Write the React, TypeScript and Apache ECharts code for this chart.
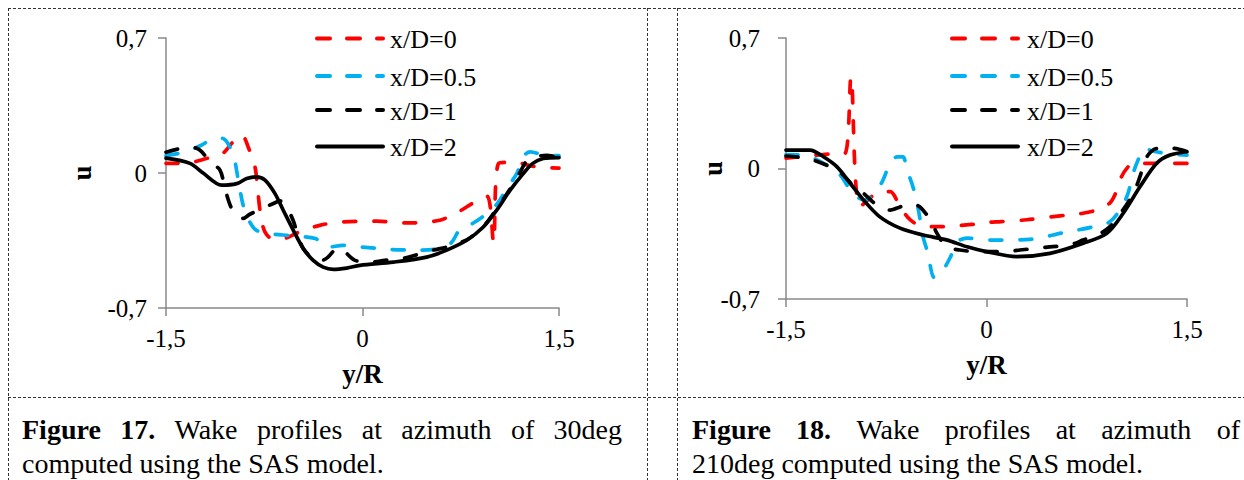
import React, { useEffect, useRef } from "react";
import * as echarts from "echarts";

// ---------- data ----------
const xTicks = [-1.5, 0, 1.5];
const yTicks = [-0.7, 0, 0.7];
const seriesNames = ["x/D=0", "x/D=0.5", "x/D=1", "x/D=2"];
const xAxisTitle = "y/R";
const yAxisTitle = "u";

// Figure 17 (azimuth 30deg)
const fig17_xD0: [number, number][] = [
  [-1.5, 0.05], [-1.36, 0.05], [-1.18, 0.077], [-1.07, 0.1], [-0.99, 0.16], [-0.92, 0.196],
  [-0.87, 0.13], [-0.82, 0.03], [-0.8, -0.09], [-0.775, -0.23], [-0.745, -0.305], [-0.69, -0.34],
  [-0.61, -0.34], [-0.48, -0.305], [-0.32, -0.27], [-0.15, -0.254], [0.11, -0.25], [0.34, -0.259],
  [0.59, -0.245], [0.74, -0.198], [0.84, -0.157], [0.95, -0.12], [1.0, -0.36], [1.04, 0.05],
  [1.16, 0.056], [1.3, 0.035], [1.5, 0.025],
];
const fig17_xD05: [number, number][] = [
  [-1.5, 0.09], [-1.35, 0.11], [-1.23, 0.144], [-1.13, 0.18], [-1.07, 0.18], [-0.99, 0.1],
  [-0.95, -0.03], [-0.91, -0.17], [-0.86, -0.255], [-0.81, -0.297], [-0.71, -0.314], [-0.55, -0.325],
  [-0.36, -0.34], [-0.26, -0.384], [-0.15, -0.375], [0.0, -0.384], [0.2, -0.396], [0.44, -0.4],
  [0.6, -0.39], [0.68, -0.36], [0.74, -0.297], [0.84, -0.262], [0.95, -0.21], [1.03, -0.158],
  [1.11, -0.072], [1.18, 0.0], [1.225, 0.084], [1.28, 0.11], [1.39, 0.092], [1.5, 0.09],
];
const fig17_xD1: [number, number][] = [
  [-1.5, 0.108], [-1.31, 0.135], [-1.24, 0.118], [-1.164, 0.058], [-1.088, 0.015], [-1.05, -0.08],
  [-1.01, -0.167], [-0.96, -0.228], [-0.91, -0.235], [-0.86, -0.214], [-0.76, -0.183], [-0.68, -0.158],
  [-0.63, -0.145], [-0.576, -0.183], [-0.53, -0.245], [-0.49, -0.33], [-0.454, -0.39], [-0.4, -0.43],
  [-0.31, -0.453], [-0.263, -0.436], [-0.19, -0.39], [-0.149, -0.4], [-0.057, -0.453], [0.07, -0.462],
  [0.17, -0.453], [0.3, -0.444], [0.4, -0.427], [0.538, -0.4], [0.643, -0.384], [0.8, -0.345],
  [0.92, -0.28], [1.02, -0.19], [1.12, -0.09], [1.2, 0.0], [1.25, 0.06], [1.3, 0.08], [1.405, 0.092],
  [1.5, 0.082],
];
const fig17_xD2: [number, number][] = [
  [-1.5, 0.077], [-1.317, 0.05], [-1.217, 0.0], [-1.075, -0.063], [-0.96, -0.055], [-0.884, -0.029],
  [-0.81, -0.02], [-0.744, -0.037], [-0.668, -0.107], [-0.605, -0.193], [-0.528, -0.297], [-0.452, -0.392],
  [-0.376, -0.453], [-0.3, -0.488], [-0.223, -0.5], [-0.12, -0.493], [-0.019, -0.479], [0.235, -0.462],
  [0.49, -0.436], [0.643, -0.4], [0.795, -0.349], [0.922, -0.28], [1.024, -0.193], [1.126, -0.09],
  [1.227, -0.003], [1.3, 0.05], [1.38, 0.075], [1.5, 0.08],
];

// Figure 18 (azimuth 210deg)
const fig18_xD0: [number, number][] = [
  [-1.5, 0.056], [-1.27, 0.072], [-1.16, 0.078], [-1.06, 0.08], [-1.014, 0.49], [-0.946, -0.205],
  [-0.8, -0.126], [-0.72, -0.124], [-0.647, -0.205], [-0.57, -0.276], [-0.47, -0.312], [-0.35, -0.312],
  [-0.11, -0.3], [0.0, -0.29], [0.11, -0.285], [0.3, -0.275], [0.5, -0.258], [0.6, -0.25],
  [0.72, -0.24], [0.82, -0.223], [0.92, -0.187], [0.96, -0.142], [1.01, -0.044], [1.06, 0.01],
  [1.1, 0.028], [1.27, 0.028], [1.5, 0.028],
];
const fig18_xD05: [number, number][] = [
  [-1.5, 0.075], [-1.35, 0.07], [-1.2, 0.02], [-1.1, -0.03], [-1.02, -0.115], [-0.97, -0.152],
  [-0.91, -0.17], [-0.83, -0.124], [-0.78, -0.07], [-0.72, 0.028], [-0.67, 0.062], [-0.625, 0.062],
  [-0.595, -0.008], [-0.55, -0.099], [-0.51, -0.22], [-0.475, -0.366], [-0.44, -0.45], [-0.39, -0.585],
  [-0.326, -0.545], [-0.27, -0.475], [-0.22, -0.394], [-0.146, -0.373], [0.026, -0.384], [0.325, -0.38],
  [0.565, -0.346], [0.79, -0.314], [0.92, -0.287], [1.013, -0.206], [1.06, -0.13], [1.09, -0.044],
  [1.125, 0.03], [1.186, 0.11], [1.24, 0.094], [1.38, 0.078], [1.5, 0.072],
];
const fig18_xD1: [number, number][] = [
  [-1.5, 0.067], [-1.42, 0.062], [-1.3, 0.046], [-1.17, 0.01], [-1.1, -0.017], [-1.0, -0.089],
  [-0.92, -0.133], [-0.82, -0.196], [-0.72, -0.223], [-0.647, -0.206], [-0.57, -0.187], [-0.5, -0.205],
  [-0.42, -0.276], [-0.37, -0.348], [-0.3, -0.42], [-0.2, -0.437], [-0.075, -0.446], [0.15, -0.446],
  [0.25, -0.437], [0.375, -0.428], [0.475, -0.42], [0.625, -0.41], [0.722, -0.384], [0.85, -0.348],
  [0.924, -0.312], [1.02, -0.223], [1.07, -0.169], [1.12, -0.098], [1.148, -0.044], [1.2, 0.063],
  [1.28, 0.108], [1.4, 0.108], [1.5, 0.09],
];
const fig18_xD2: [number, number][] = [
  [-1.5, 0.099], [-1.32, 0.099], [-1.22, 0.063], [-1.12, 0.01], [-1.02, -0.079], [-0.92, -0.169],
  [-0.8, -0.258], [-0.647, -0.32], [-0.473, -0.357], [-0.3, -0.383], [-0.145, -0.42], [0.0, -0.446],
  [0.225, -0.473], [0.475, -0.455], [0.724, -0.401], [0.9, -0.348], [1.023, -0.24], [1.148, -0.098],
  [1.273, 0.028], [1.373, 0.072], [1.5, 0.09],
];

const caption17Line1 = ["Figure", "17.", "Wake", "profiles", "at", "azimuth", "of", "30deg"];
const caption17Line2 = "computed using the SAS model.";
const caption18Line1 = ["Figure", "18.", "Wake", "profiles", "at", "azimuth", "of"];
const caption18Line2 = "210deg computed using the SAS model.";
const boldWordCount = 2;

// ---------- styles ----------
const FONT = "'Liberation Serif', 'Times New Roman', serif";
const COLORS = ["#FF0000", "#00B0F0", "#000000", "#000000"];
const DASHED = [true, true, true, false];
const AXIS_GREY = "#898989";

const fmt = (v: number) => String(Math.round(v * 10) / 10).replace(".", ",");

function measure(text: string, font: string): number {
  const ctx = document.createElement("canvas").getContext("2d");
  if (!ctx) return text.length * 12;
  ctx.font = font;
  return ctx.measureText(text).width;
}

function justifiedLine(words: string[], x0: number, x1: number, y: number, size: number) {
  const widths = words.map((w, i) =>
    measure(w, `${i < boldWordCount ? "bold " : ""}${size}px "Liberation Serif"`)
  );
  const total = widths.reduce((a, b) => a + b, 0);
  const gap = (x1 - x0 - total) / (words.length - 1);
  let x = x0;
  return words.map((w, i) => {
    const el = {
      type: "text",
      x,
      y,
      style: {
        text: w,
        font: `${i < boldWordCount ? "bold " : ""}${size}px "Liberation Serif"`,
        fill: "#000",
        textAlign: "left",
        textVerticalAlign: "middle",
      },
    };
    x += widths[i] + gap;
    return el;
  });
}

function legendGraphics(lx0: number, lx1: number, tx: number, ys: number[]) {
  const els: any[] = [];
  seriesNames.forEach((name, i) => {
    els.push({
      type: "line",
      shape: { x1: lx0 + 2, y1: ys[i], x2: lx1 - 2, y2: ys[i] },
      style: {
        stroke: COLORS[i],
        lineWidth: 4,
        lineCap: "round",
        lineDash: DASHED[i] ? [13, 17] : null,
      },
    });
    els.push({
      type: "text",
      x: tx,
      y: ys[i] + 1,
      style: {
        text: name,
        font: `26px "Liberation Serif"`,
        fill: "#000",
        textAlign: "left",
        textVerticalAlign: "middle",
      },
    });
  });
  return els;
}

function borderGraphics() {
  const st = { stroke: "#333", lineWidth: 1, lineDash: [3, 2] };
  const els: any[] = [];
  [8.5, 397.5].forEach((y) =>
    els.push({ type: "line", shape: { x1: 8, y1: y, x2: 1244, y2: y }, style: st, silent: true })
  );
  [8.5, 647.5, 677.5].forEach((x) =>
    els.push({ type: "line", shape: { x1: x, y1: 8, x2: x, y2: 480 }, style: st, silent: true })
  );
  return els;
}

function makeAxes(gridIndex: number, yNameGap: number, yLabelMargin: number) {
  const axisLine = { show: true, onZero: false, lineStyle: { color: AXIS_GREY, width: 1.5 } };
  const axisTick = { show: true, length: 8, inside: false, lineStyle: { color: AXIS_GREY, width: 1.5 } };
  const labelStyle = { fontFamily: FONT, fontSize: 25, color: "#000" };
  const nameStyle = { fontFamily: FONT, fontSize: 27, fontWeight: "bold", color: "#000" };
  const x = {
    type: "value",
    gridIndex,
    min: xTicks[0],
    max: xTicks[xTicks.length - 1],
    interval: xTicks[1] - xTicks[0],
    axisLine,
    axisTick,
    splitLine: { show: false },
    axisLabel: { ...labelStyle, margin: 18, formatter: fmt },
    name: xAxisTitle,
    nameLocation: "middle",
    nameGap: 52,
    nameMoveOverlap: false,
    nameTextStyle: nameStyle,
  };
  const y = {
    type: "value",
    gridIndex,
    min: yTicks[0],
    max: yTicks[yTicks.length - 1],
    interval: yTicks[1] - yTicks[0],
    axisLine,
    axisTick,
    splitLine: { show: false },
    axisLabel: { ...labelStyle, margin: yLabelMargin, formatter: fmt },
    name: yAxisTitle,
    nameLocation: "middle",
    nameRotate: 90,
    nameGap: yNameGap,
    nameMoveOverlap: false,
    nameTextStyle: nameStyle,
  };
  return { x, y };
}

function makeSeries(sets: [number, number][][], axisIndex: number) {
  return sets.map((data, i) => ({
    type: "line",
    name: seriesNames[i] + (axisIndex ? " " : ""),
    xAxisIndex: axisIndex,
    yAxisIndex: axisIndex,
    data,
    symbol: "none",
    smooth: 0.3,
    silent: true,
    z: 2 + i,
    lineStyle: {
      color: COLORS[i],
      width: 3.7,
      type: DASHED[i] ? [12, 18] : "solid",
      cap: "round",
      join: "round",
    },
  }));
}

export default function App() {
  const ref = useRef<HTMLDivElement>(null);
  useEffect(() => {
    if (!ref.current) return;
    const chart = echarts.init(ref.current, undefined, { renderer: "svg" });
    const a0 = makeAxes(0, 71, 19);
    const a1 = makeAxes(1, 60, 26);
    const option: any = {
      animation: false,
      backgroundColor: "#fff",
      textStyle: { fontFamily: FONT },
      grid: [
        { left: 166, top: 38, width: 393, height: 270 },
        { left: 786, top: 38, width: 401, height: 261 },
      ],
      xAxis: [a0.x, a1.x],
      yAxis: [a0.y, a1.y],
      series: [
        ...makeSeries([fig17_xD0, fig17_xD05, fig17_xD1, fig17_xD2], 0),
        ...makeSeries([fig18_xD0, fig18_xD05, fig18_xD1, fig18_xD2], 1),
      ],
      graphic: [
        ...borderGraphics(),
        ...legendGraphics(315, 385, 390, [38.5, 76, 110, 146.5]),
        ...legendGraphics(950, 1020, 1027, [38.5, 76, 110, 146.5]),
        ...justifiedLine(caption17Line1, 22, 622, 429, 28),
        {
          type: "text",
          x: 22,
          y: 463,
          style: { text: caption17Line2, font: `28px "Liberation Serif"`, fill: "#000", textVerticalAlign: "middle" },
        },
        ...justifiedLine(caption18Line1, 692, 1240, 429, 28),
        {
          type: "text",
          x: 692,
          y: 463,
          style: { text: caption18Line2, font: `28px "Liberation Serif"`, fill: "#000", textVerticalAlign: "middle" },
        },
      ],
    };
    chart.setOption(option);
    return () => chart.dispose();
  }, []);
  return (
    <div
      ref={ref}
      style={{ position: "absolute", left: 0, top: 0, width: 1244, height: 480, background: "#fff" }}
    />
  );
}
